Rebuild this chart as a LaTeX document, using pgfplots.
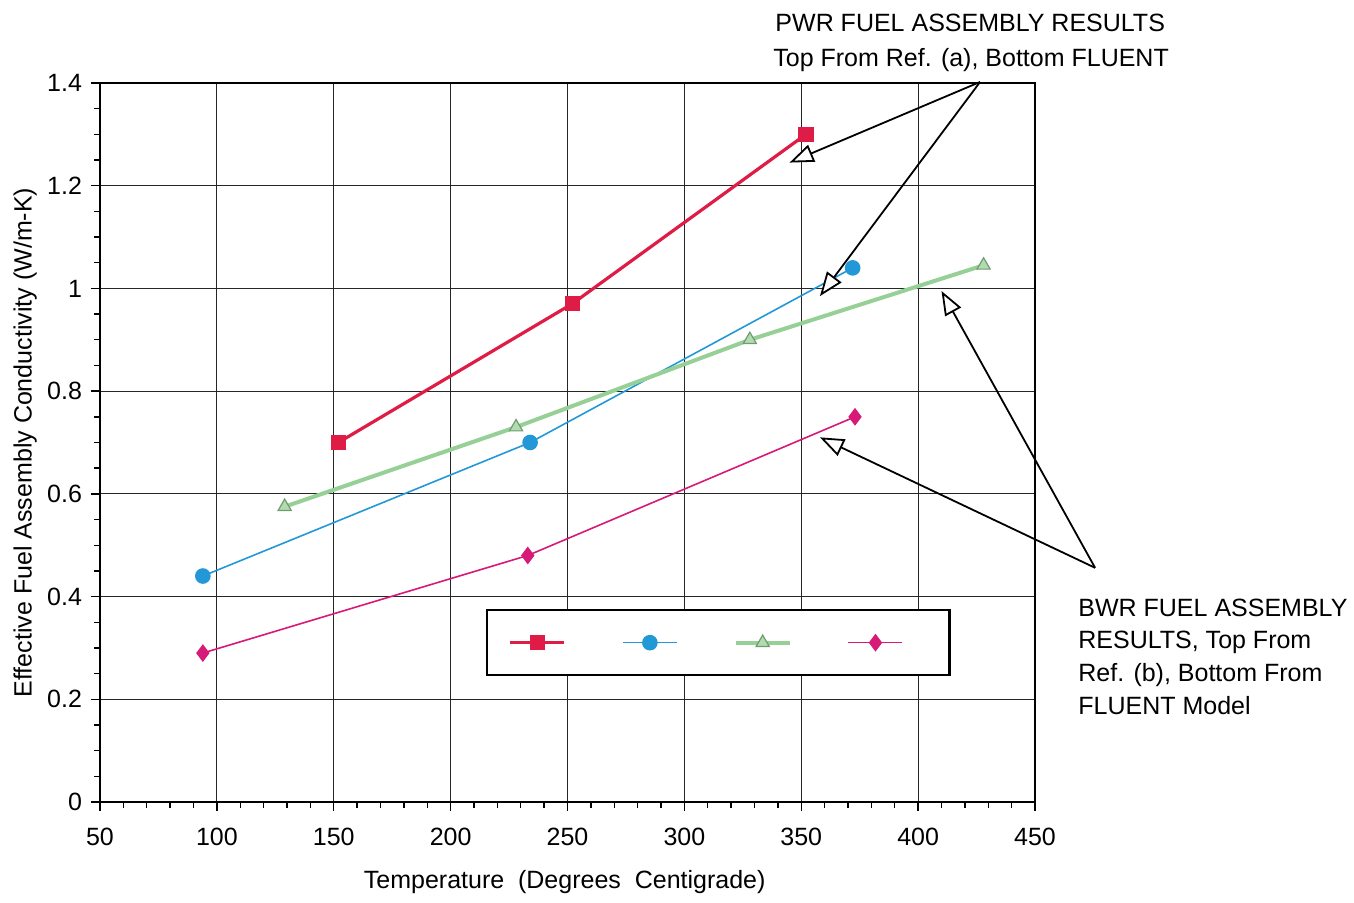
\documentclass[border=0pt]{standalone}
\usepackage{fontspec}
\setmainfont{Liberation Sans}
\usepackage{pgfplots}
\pgfplotsset{compat=1.18}
\usetikzlibrary{arrows.meta}
\definecolor{pwrred}{RGB}{222,28,70}
\definecolor{pwrblue}{RGB}{35,152,215}
\definecolor{bwrgreen}{RGB}{150,208,150}
\definecolor{bwrmag}{RGB}{215,25,120}
\begin{document}
\begin{tikzpicture}[font=\fontsize{12.5}{15}\selectfont]
\useasboundingbox (0,0) rectangle (677pt,451.5pt);
\begin{axis}[
  at={(50pt,50.5pt)}, anchor=south west,
  width=467.5pt, height=359.5pt, scale only axis,
  xmin=50, xmax=450, ymin=0, ymax=1.4,
  xtick={50,100,150,200,250,300,350,400,450},
  ytick={0,0.2,0.4,0.6,0.8,1,1.2,1.4},
  minor x tick num=4, minor y tick num=3,
  xtick pos=left, ytick pos=left,
  tick align=outside,
  major tick length=4.5pt, minor tick length=3pt,
  every tick/.style={black, line width=0.7pt},
  grid=major,
  major grid style={black!85, line width=0.6pt},
  axis line style={black, line width=1.2pt},
  /pgf/number format/assume math mode=true,
  xticklabel style={yshift=-5pt},
  yticklabel style={xshift=-1pt},
  xlabel={Temperature\ \ (Degrees\ \ Centigrade)},
  ylabel={Effective Fuel Assembly Conductivity (W/m-K)},
  xlabel style={at={(axis description cs:0.497,-0.111)}, anchor=center},
  ylabel style={at={(axis description cs:-0.080,0.5)}, anchor=center, rotate=0},
  clip=false,
  legend image code/.code={\draw[mark repeat=2,mark phase=2] plot coordinates {(0pt,0pt)(13.5pt,0pt)(27pt,0pt)};},
  legend style={at={(axis cs:215,0.376)}, anchor=north west, draw=black, line width=1.2pt, fill=white,
    inner xsep=11pt, inner ysep=12.5pt,
    /tikz/every even column/.append style={column sep=16pt}},
  legend columns=4,
]
\addplot[pwrred, line width=1.6pt, mark=square*, mark size=3.5pt, mark options={solid, fill=pwrred, line width=0.6pt}]
  coordinates {(152,0.70) (252,0.97) (352,1.30)};
\addlegendentry{\hspace*{8pt}}
\addplot[pwrblue, line width=0.8pt, mark=*, mark size=3.5pt, mark options={solid, fill=pwrblue}]
  coordinates {(94,0.44) (234,0.70) (372,1.04)};
\addlegendentry{\hspace*{8pt}}
\addplot[bwrgreen, line width=2pt, mark=triangle*, mark size=3.8pt, mark options={solid, fill=bwrgreen!75, draw=bwrgreen!75!black, line width=0.6pt}]
  coordinates {(129,0.575) (228,0.73) (328,0.90) (428,1.045)};
\addlegendentry{\hspace*{8pt}}
\addplot[bwrmag, line width=0.8pt, mark=diamond*, mark size=3.8pt, mark options={solid, fill=bwrmag}]
  coordinates {(94,0.29) (233,0.48) (373,0.75)};
\addlegendentry{\hspace*{8pt}}

% annotations
\draw[black, line width=0.9pt, -{Triangle[open, fill=white, length=12pt, width=9pt]}]
  (axis cs:426.5,1.402) -- (axis cs:345,1.245);
\draw[black, line width=0.9pt, -{Triangle[open, fill=white, length=12pt, width=9pt]}]
  (axis cs:426.5,1.402) -- (axis cs:358,0.985);
\draw[black, line width=0.9pt, -{Triangle[open, fill=white, length=12pt, width=9pt]}]
  (axis cs:475.7,0.456) -- (axis cs:410,0.995);
\draw[black, line width=0.9pt, -{Triangle[open, fill=white, length=12pt, width=9pt]}]
  (axis cs:475.7,0.456) -- (axis cs:358,0.71);
\node[anchor=base west, inner sep=0pt] at (axis cs:338.8,1.501) {PWR FUEL ASSEMBLY RESULTS};
\node[anchor=base west, inner sep=0pt] at (axis cs:337.9,1.433) {Top From Ref. (a), Bottom FLUENT};
\node[anchor=base west, inner sep=0pt] at (axis cs:468.4,0.362) {BWR FUEL ASSEMBLY};
\node[anchor=base west, inner sep=0pt] at (axis cs:468.4,0.298) {RESULTS, Top From};
\node[anchor=base west, inner sep=0pt] at (axis cs:468.4,0.234) {Ref. (b), Bottom From};
\node[anchor=base west, inner sep=0pt] at (axis cs:468.4,0.171) {FLUENT Model};
\end{axis}
\end{tikzpicture}
\end{document}
